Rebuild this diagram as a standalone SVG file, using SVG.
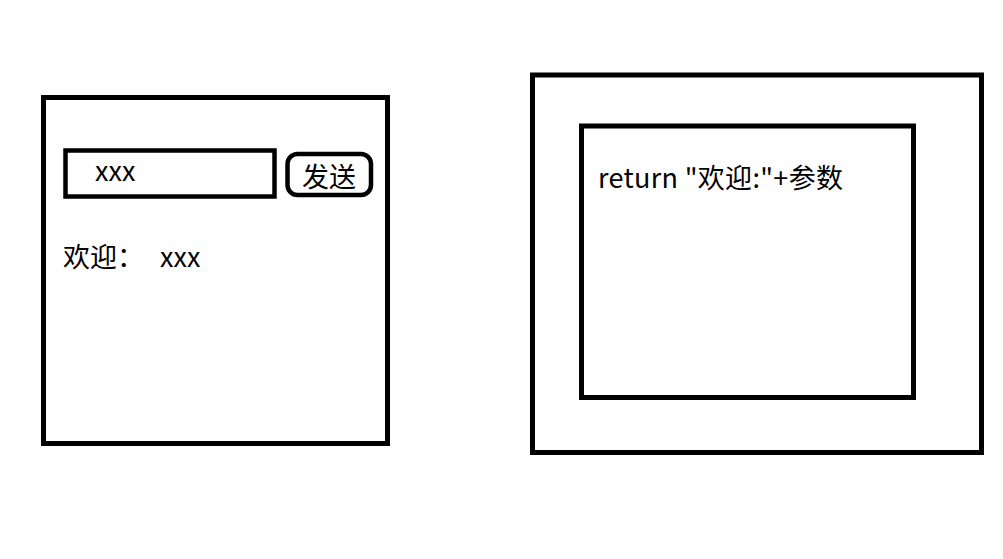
<svg xmlns="http://www.w3.org/2000/svg" width="1003" height="559" viewBox="0 0 1003 559">
<style>
.box{fill:none;stroke:#000;stroke-width:5}
.thin{fill:none;stroke:#000;stroke-width:4.5}
text{font-family:"Noto Sans CJK SC","Noto Sans",sans-serif;font-size:27px;fill:#000}
</style>
<rect width="1003" height="559" fill="#fff"/>
<g id="client">
<rect class="box" x="43.5" y="97.5" width="344" height="346"/>
<g id="input">
<rect class="thin" x="65.5" y="150.5" width="209" height="46"/>
<text x="95" y="181">xxx</text>
</g>
<g id="send-button">
<rect class="thin" x="287.5" y="154" width="83.5" height="41" rx="10"/>
<text x="302" y="187">发送</text>
</g>
<g id="welcome">
<text x="63" y="267">欢迎：</text>
<text x="160" y="267">xxx</text>
</g>
</g>
<g id="server">
<rect class="box" x="532.5" y="75" width="449" height="377.5"/>
<g id="handler">
<rect class="box" x="581.5" y="126" width="332" height="271.5"/>
<text x="598" y="188" textLength="245" lengthAdjust="spacing">return "欢迎:"+参数</text>
</g>
</g>
<g id="connectors"></g>
</svg>
